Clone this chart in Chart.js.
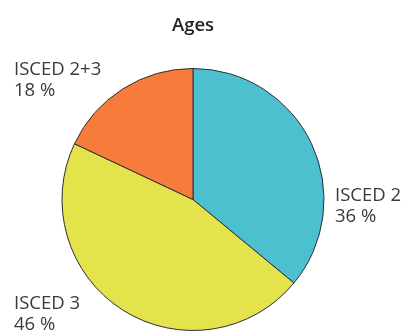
<!DOCTYPE html>
<html>
<head>
<meta charset="utf-8">
<script src="https://cdn.jsdelivr.net/npm/chart.js@4/dist/chart.umd.min.js"></script>
<style>
  html, body { margin: 0; padding: 0; background: #ffffff; }
  #wrap { width: 406px; height: 332px; position: relative; }
</style>
</head>
<body>
<div id="wrap"><canvas id="c" width="406" height="332"></canvas></div>
<script>
const chartTitle = "Ages";
const categories = ["ISCED 2", "ISCED 3", "ISCED 2+3"];
const shares = [36, 46, 18];
const sliceColors = ["#4cc0cf", "#e4e34c", "#f77b3a"];

// label placement (text only): x, first-line baseline
const labelPlacement = [
  { x: 335, y: 201 },
  { x: 14, y: 309 },
  { x: 14, y: 75 }
];

const labelPlugin = {
  id: "sliceLabels",
  afterDraw(chart) {
    const ctx = chart.ctx;
    ctx.save();
    ctx.font = '18.5px "Open Sans", sans-serif';
    ctx.fillStyle = "#3a3a3a";
    ctx.textAlign = "left";
    ctx.textBaseline = "alphabetic";
    const ds = chart.data.datasets[0];
    chart.data.labels.forEach((lab, i) => {
      const p = labelPlacement[i];
      ctx.fillText(lab, p.x, p.y);
      ctx.fillText(ds.data[i] + " %", p.x, p.y + 20.5);
    });
    ctx.restore();
  }
};

new Chart(document.getElementById("c"), {
  type: "pie",
  data: {
    labels: categories,
    datasets: [{
      data: shares,
      backgroundColor: sliceColors,
      borderColor: "#2d2d3a",
      borderWidth: 1
    }]
  },
  options: {
    responsive: false,
    animation: false,
    layout: { padding: { left: 61, right: 81, top: 0, bottom: 1 } },
    plugins: {
      legend: { display: false },
      tooltip: { enabled: false },
      title: {
        display: true,
        text: chartTitle,
        color: "#222222",
        font: { family: '"Open Sans", sans-serif', size: 18.5, weight: "600" },
        padding: { top: 14.2, bottom: 31.6 }
      }
    }
  },
  plugins: [labelPlugin]
});
</script>
</body>
</html>
